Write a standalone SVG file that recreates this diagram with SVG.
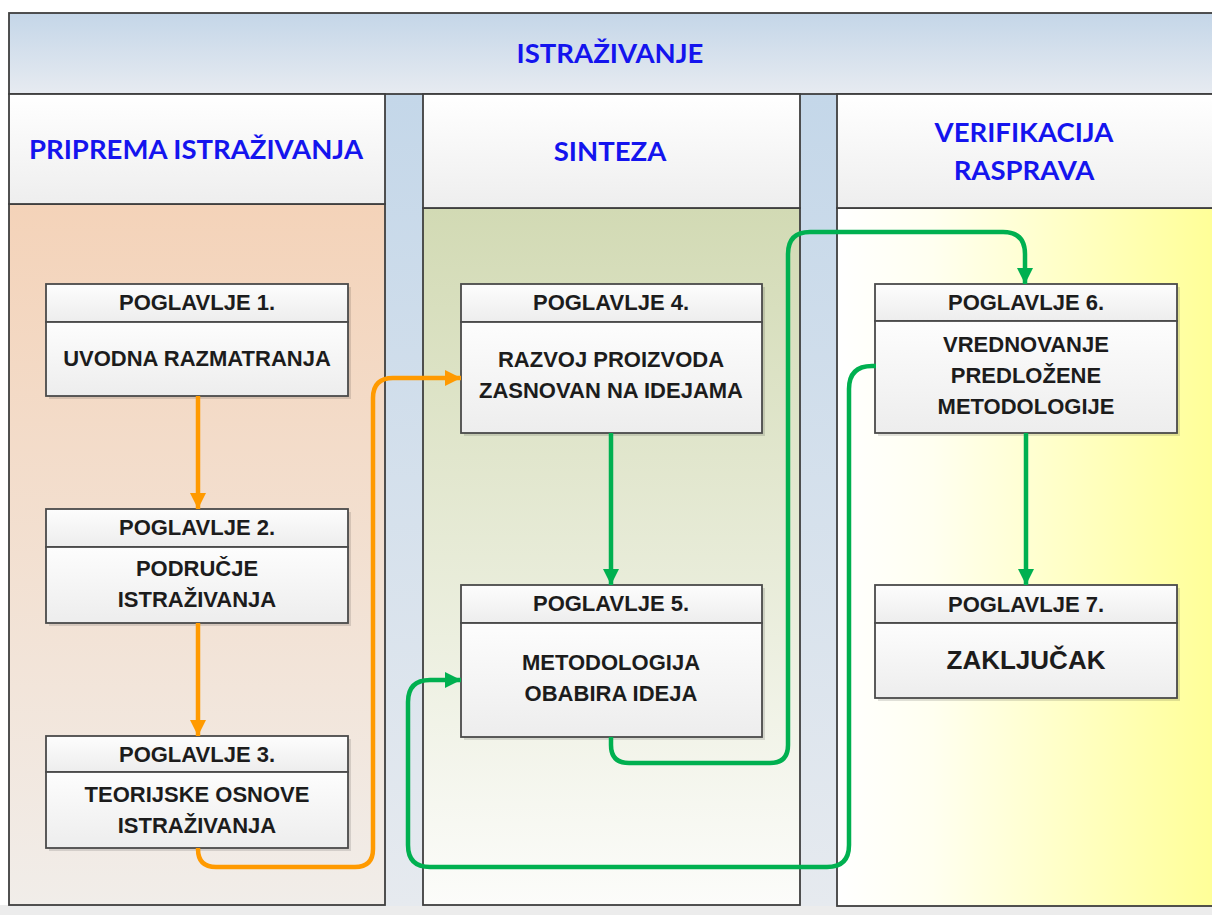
<svg xmlns="http://www.w3.org/2000/svg" width="1212" height="915" viewBox="0 0 1212 915">
<defs>
<linearGradient id="gBanner" x1="0" y1="0" x2="0" y2="1"><stop offset="0" stop-color="#c4d6e8"/><stop offset="1" stop-color="#e7ebf1"/></linearGradient>
<linearGradient id="gPool" x1="0" y1="0" x2="0" y2="1"><stop offset="0" stop-color="#c4d7e9"/><stop offset="1" stop-color="#e6eaef"/></linearGradient>
<linearGradient id="gHead" x1="0" y1="0" x2="0" y2="1"><stop offset="0" stop-color="#ffffff"/><stop offset="1" stop-color="#eeeeee"/></linearGradient>
<linearGradient id="gCol1" x1="0" y1="0" x2="0" y2="1"><stop offset="0" stop-color="#f4d3b9"/><stop offset="1" stop-color="#f1ede9"/></linearGradient>
<linearGradient id="gCol2" x1="0" y1="0" x2="0" y2="1"><stop offset="0" stop-color="#d2dab4"/><stop offset="1" stop-color="#fcfcfa"/></linearGradient>
<linearGradient id="gCol3" x1="0" y1="0" x2="1" y2="0"><stop offset="0" stop-color="#ffffff"/><stop offset="0.25" stop-color="#fffff0"/><stop offset="1" stop-color="#ffff96"/></linearGradient>
<linearGradient id="gNode" x1="0" y1="0" x2="0" y2="1"><stop offset="0" stop-color="#fdfdfd"/><stop offset="1" stop-color="#ededed"/></linearGradient>
<marker id="aO" markerUnits="userSpaceOnUse" markerWidth="18" markerHeight="18" refX="16" refY="8" orient="auto"><path d="M0,0 L16,8 L0,16 z" fill="#ff9a00"/></marker>
<marker id="aG" markerUnits="userSpaceOnUse" markerWidth="18" markerHeight="18" refX="16" refY="8" orient="auto"><path d="M0,0 L16,8 L0,16 z" fill="#00b050"/></marker>
</defs>
<style>
.frame{stroke:#3f3f3f;stroke-width:1.8}
.lane{font-family:Lato,"Open Sans",sans-serif;font-weight:700;font-size:27.5px;fill:#1414ee;text-anchor:middle}
.nt{font-family:"Liberation Sans",Arial,sans-serif;font-weight:700;font-size:22px;fill:#1c1c1c;text-anchor:middle}
.box{fill:url(#gNode);stroke:#4a4a4a;stroke-width:1.8}
.sh{fill:#000;opacity:0.12}
.co{fill:none;stroke:#ff9a00;stroke-width:4.5;marker-end:url(#aO)}
.cg{fill:none;stroke:#00b050;stroke-width:4.5;marker-end:url(#aG)}
</style>
<rect x="0" y="0" width="1212" height="915" fill="#ffffff"/>
<rect x="0" y="905" width="1212" height="10" fill="#ececec"/>
<rect x="9" y="94" width="1210" height="812" fill="url(#gPool)"/>
<g id="banner">
<rect class="frame" x="9" y="13" width="1210" height="81" fill="url(#gBanner)"/>
<text class="lane" x="610" y="63">ISTRAŽIVANJE</text>
</g>
<g id="lane1">
<rect class="frame" x="9" y="204" width="376" height="701" fill="url(#gCol1)"/>
<rect class="frame" x="9" y="94" width="376" height="110" fill="url(#gHead)"/>
<text class="lane" x="196" y="159">PRIPREMA ISTRAŽIVANJA</text>
</g>
<g id="lane2">
<rect class="frame" x="423" y="208" width="377" height="697" fill="url(#gCol2)"/>
<rect class="frame" x="423" y="94" width="377" height="114" fill="url(#gHead)"/>
<text class="lane" x="610" y="161">SINTEZA</text>
</g>
<g id="lane3">
<rect class="frame" x="837" y="208" width="382" height="698" fill="url(#gCol3)"/>
<rect class="frame" x="837" y="94" width="382" height="114" fill="url(#gHead)"/>
<text class="lane" x="1024" y="142">VERIFIKACIJA</text>
<text class="lane" x="1024" y="180">RASPRAVA</text>
</g>
<g id="node1">
<rect class="sh" x="49" y="287" width="302" height="112"/>
<rect class="box" x="46" y="284" width="302" height="38"/>
<rect class="box" x="46" y="322" width="302" height="74"/>
<text class="nt" x="197" y="310">POGLAVLJE 1.</text>
<text class="nt" x="197" y="366">UVODNA RAZMATRANJA</text>
</g>
<g id="node2">
<rect class="sh" x="49" y="512" width="302" height="114"/>
<rect class="box" x="46" y="509" width="302" height="38"/>
<rect class="box" x="46" y="547" width="302" height="76"/>
<text class="nt" x="197" y="535">POGLAVLJE 2.</text>
<text class="nt" x="197" y="576">PODRUČJE</text>
<text class="nt" x="197" y="607">ISTRAŽIVANJA</text>
</g>
<g id="node3">
<rect class="sh" x="49" y="739" width="302" height="112"/>
<rect class="box" x="46" y="736" width="302" height="36"/>
<rect class="box" x="46" y="772" width="302" height="76"/>
<text class="nt" x="197" y="762">POGLAVLJE 3.</text>
<text class="nt" x="197" y="802">TEORIJSKE OSNOVE</text>
<text class="nt" x="197" y="833">ISTRAŽIVANJA</text>
</g>
<g id="node4">
<rect class="sh" x="464" y="287" width="301" height="149"/>
<rect class="box" x="461" y="284" width="301" height="38"/>
<rect class="box" x="461" y="322" width="301" height="111"/>
<text class="nt" x="611" y="310">POGLAVLJE 4.</text>
<text class="nt" x="611" y="367">RAZVOJ PROIZVODA</text>
<text class="nt" x="611" y="398">ZASNOVAN NA IDEJAMA</text>
</g>
<g id="node5">
<rect class="sh" x="464" y="588" width="301" height="152"/>
<rect class="box" x="461" y="585" width="301" height="38"/>
<rect class="box" x="461" y="623" width="301" height="114"/>
<text class="nt" x="611" y="611">POGLAVLJE 5.</text>
<text class="nt" x="611" y="670">METODOLOGIJA</text>
<text class="nt" x="611" y="701">OBABIRA IDEJA</text>
</g>
<g id="node6">
<rect class="sh" x="878" y="287" width="302" height="149"/>
<rect class="box" x="875" y="284" width="302" height="37"/>
<rect class="box" x="875" y="321" width="302" height="112"/>
<text class="nt" x="1026" y="310">POGLAVLJE 6.</text>
<text class="nt" x="1026" y="352">VREDNOVANJE</text>
<text class="nt" x="1026" y="383">PREDLOŽENE</text>
<text class="nt" x="1026" y="414">METODOLOGIJE</text>
</g>
<g id="node7">
<rect class="sh" x="878" y="588" width="302" height="113"/>
<rect class="box" x="875" y="585" width="302" height="38"/>
<rect class="box" x="875" y="623" width="302" height="75"/>
<text class="nt" x="1026" y="612">POGLAVLJE 7.</text>
<text class="nt" x="1026" y="669" style="font-size:26px">ZAKLJUČAK</text>
</g>
<g id="connectors">
<path class="co" d="M198,396 L198,509"/>
<path class="co" d="M198,623 L198,736"/>
<path class="co" d="M198,848 L198,849 Q198,867 216,867 L355,867 Q373,867 373,849 L373,398 Q373,378 393,378 L461,378"/>
<path class="cg" d="M611,433 L611,585"/>
<path class="cg" d="M611,737 L611,745 Q611,763 629,763 L770,763 Q788,763 788,745 L788,254 Q788,232 810,232 L1003,232 Q1025,232 1025,254 L1025,284"/>
<path class="cg" d="M876,366 L872,366 Q849,366 849,389 L849,845 Q849,867 827,867 L430,867 Q408,867 408,845 L408,702 Q408,680 430,680 L461,680"/>
<path class="cg" d="M1026,433 L1026,585"/>
</g>
</svg>
